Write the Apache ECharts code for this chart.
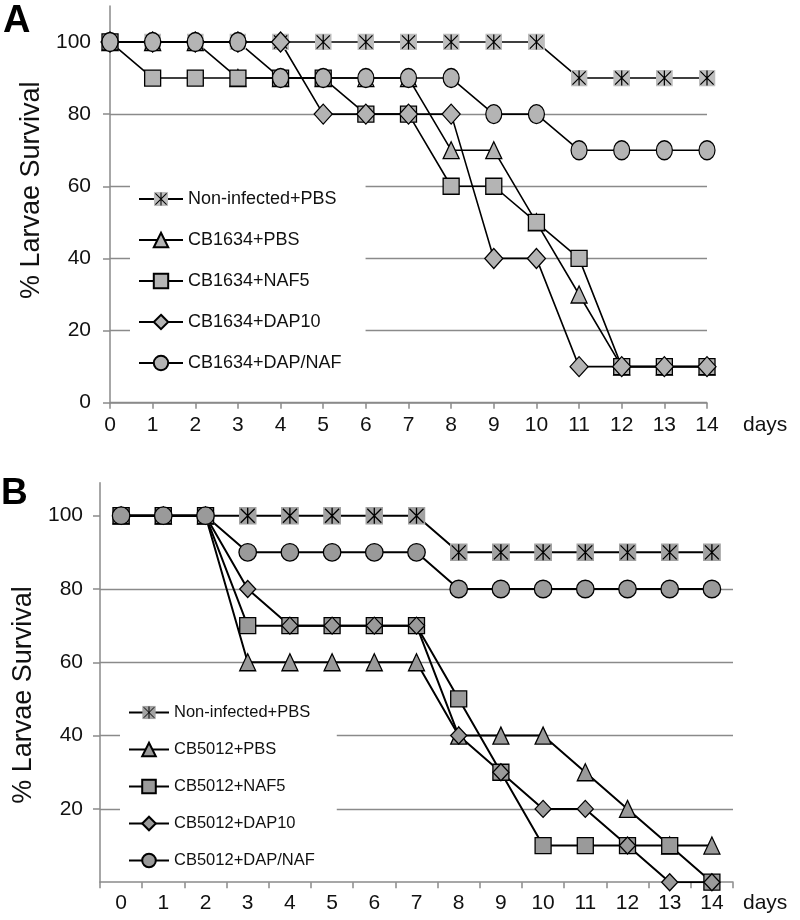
<!DOCTYPE html>
<html><head><meta charset="utf-8">
<script src="https://cdn.jsdelivr.net/npm/echarts@6/dist/echarts.min.js"></script>
<style>html,body{margin:0;padding:0;background:#fff}#c{width:800px;height:920px}</style>
</head><body><div id="c"></div>
<script>
// ---------- data ----------
const days = ['0','1','2','3','4','5','6','7','8','9','10','11','12','13','14'];
const namesA = ['Non-infected+PBS','CB1634+PBS','CB1634+NAF5','CB1634+DAP10','CB1634+DAP/NAF'];
const namesB = ['Non-infected+PBS ','CB5012+PBS','CB5012+NAF5','CB5012+DAP10','CB5012+DAP/NAF'];
const a_nonInfected = [100,100,100,100,100,100,100,100,100,100,100,90,90,90,90];
const a_pbs         = [100,100,100,90,90,90,90,90,70,70,50,30,10,10,10];
const a_naf5        = [100,90,90,90,90,90,80,80,60,60,50,40,10,10,10];
const a_dap10       = [100,100,100,100,100,80,80,80,80,40,40,10,10,10,10];
const a_dapnaf      = [100,100,100,100,90,90,90,90,90,80,80,70,70,70,70];
const b_nonInfected = [100,100,100,100,100,100,100,100,90,90,90,90,90,90,90];
const b_pbs         = [100,100,100,60,60,60,60,60,40,40,40,30,20,10,10];
const b_naf5        = [100,100,100,70,70,70,70,70,50,30,10,10,10,10,0];
const b_dap10       = [100,100,100,80,70,70,70,70,40,30,20,20,10,0,0];
const b_dapnaf      = [100,100,100,90,90,90,90,90,80,80,80,80,80,80,80];
const yTicksA = [0,20,40,60,80,100];
const yTicksB = [20,40,60,80,100];

// ---------- styles ----------
function starIcon(fill){
  const svg = "<svg xmlns='http://www.w3.org/2000/svg' width='36' height='36' viewBox='0 0 36 36'>"+
    "<rect x='0' y='0' width='36' height='36' fill='"+fill+"'/>"+
    "<path d='M18 2V34M4 4L32 32M32 4L4 32' stroke='#000' stroke-width='2.6' fill='none'/></svg>";
  return 'image://data:image/svg+xml;charset=utf-8,' + encodeURIComponent(svg);
}
const fillA = '#b4b4b4', fillB = '#9a9a9a';
const axisGray = '#8a8a8a';
const txt = '#111';
const FONT = '"Liberation Sans", Arial, sans-serif';

function mkSeries(name, data, symbol, size, fill, lw, idx){
  return {
    type:'line', name, data, symbol, symbolSize:size,
    xAxisIndex:idx, yAxisIndex:idx,
    lineStyle:{color:'#000', width:lw},
    itemStyle:{color:fill, borderColor:'#000', borderWidth:1.3, opacity:1},
    emphasis:{disabled:true}, animation:false
  };
}

const series = [
  mkSeries(namesA[0], a_nonInfected, starIcon('#bdbdbd'), 17, fillA, 1.6, 0),
  mkSeries(namesA[1], a_pbs, 'triangle', [16,17], fillA, 1.6, 0),
  mkSeries(namesA[2], a_naf5, 'rect', 16, fillA, 1.6, 0),
  mkSeries(namesA[3], a_dap10, 'diamond', [18,20], fillA, 1.6, 0),
  mkSeries(namesA[4], a_dapnaf, 'circle', [16,19], fillA, 1.6, 0),
  mkSeries(namesB[0], b_nonInfected, starIcon('#a2a2a2'), 18, fillB, 2, 1),
  mkSeries(namesB[1], b_pbs, 'triangle', [16,17], fillB, 2, 1),
  mkSeries(namesB[2], b_naf5, 'rect', 16, fillB, 2, 1),
  mkSeries(namesB[3], b_dap10, 'diamond', [16,17], fillB, 2, 1),
  mkSeries(namesB[4], b_dapnaf, 'circle', 17.5, fillB, 2, 1)
];

function xAx(idx, boundary, labelMargin, nameGap){
  return {
    type:'category', gridIndex:idx, data:days, boundaryGap:boundary,
    name:'days', nameLocation:'end', nameGap:nameGap,
    nameTextStyle:{fontSize:21, color:txt, fontFamily:FONT, verticalAlign:'top', padding:[labelMargin,0,0,0]},
    axisLine:{lineStyle:{color:axisGray, width:1.5}},
    axisTick:{show:true, length:6, alignWithLabel:false, interval:0, lineStyle:{color:axisGray, width:1.5}},
    axisLabel:{fontSize:21, color:txt, fontFamily:FONT, margin:labelMargin, interval:0},
    splitLine:{show:false}
  };
}
function yAx(idx, max, ticks, nameGap, namePad, labelMargin){
  return {
    type:'value', gridIndex:idx, min:0, max:max, interval:20,
    name:'% Larvae Survival', nameLocation:'middle', nameGap:nameGap,
    nameTextStyle:{fontSize:27, color:txt, fontFamily:FONT, padding:namePad},
    axisLine:{show:true, lineStyle:{color:axisGray, width:1.5}},
    axisTick:{show:true, length:7, customValues:ticks, lineStyle:{color:axisGray, width:1.5}},
    axisLabel:{fontSize:21, color:txt, fontFamily:FONT, margin:labelMargin, customValues:ticks},
    splitLine:{show:true, showMaxLine:false, lineStyle:{color:axisGray, width:1.4}}
  };
}

const chart = echarts.init(document.getElementById('c'), null, {renderer:'canvas'});
chart.setOption({
  backgroundColor:'#fff',
  animation:false,
  textStyle:{fontFamily:FONT},
  grid:[
    {left:110, top:5.9, width:597, height:396.8},
    {left:100, top:482.7, width:633, height:399.5}
  ],
  xAxis:[ xAx(0, false, 12, 36), xAx(1, true, 11, 10) ],
  yAxis:[ yAx(0, 110, yTicksA, 60, [0,0,0,28], 19), yAx(1, 109, yTicksB, 54, [0,25,0,0], 17) ],
  legend:[
    {data:namesA, orient:'vertical', left:130, top:175, padding:[15,24,10,8],
     backgroundColor:'#fff', itemWidth:44, itemHeight:18, itemGap:23,
     textStyle:{fontSize:18, color:txt, fontFamily:FONT}, selectedMode:false},
    {data:namesB, orient:'vertical', left:120, top:689, padding:[15,22,10,8],
     backgroundColor:'#fff', itemWidth:40, itemHeight:17, itemGap:20,
     formatter:n=>n.trim(),
     textStyle:{fontSize:16.5, color:txt, fontFamily:FONT}, selectedMode:false}
  ],
  graphic:[
    {type:'text', left:3, top:3, style:{text:'A', fontSize:38, fontWeight:'bold', fill:'#000', fontFamily:FONT}},
    {type:'text', left:1, top:475, style:{text:'B', fontSize:37, fontWeight:'bold', fill:'#000', fontFamily:FONT}}
  ],
  series
});
</script></body></html>
